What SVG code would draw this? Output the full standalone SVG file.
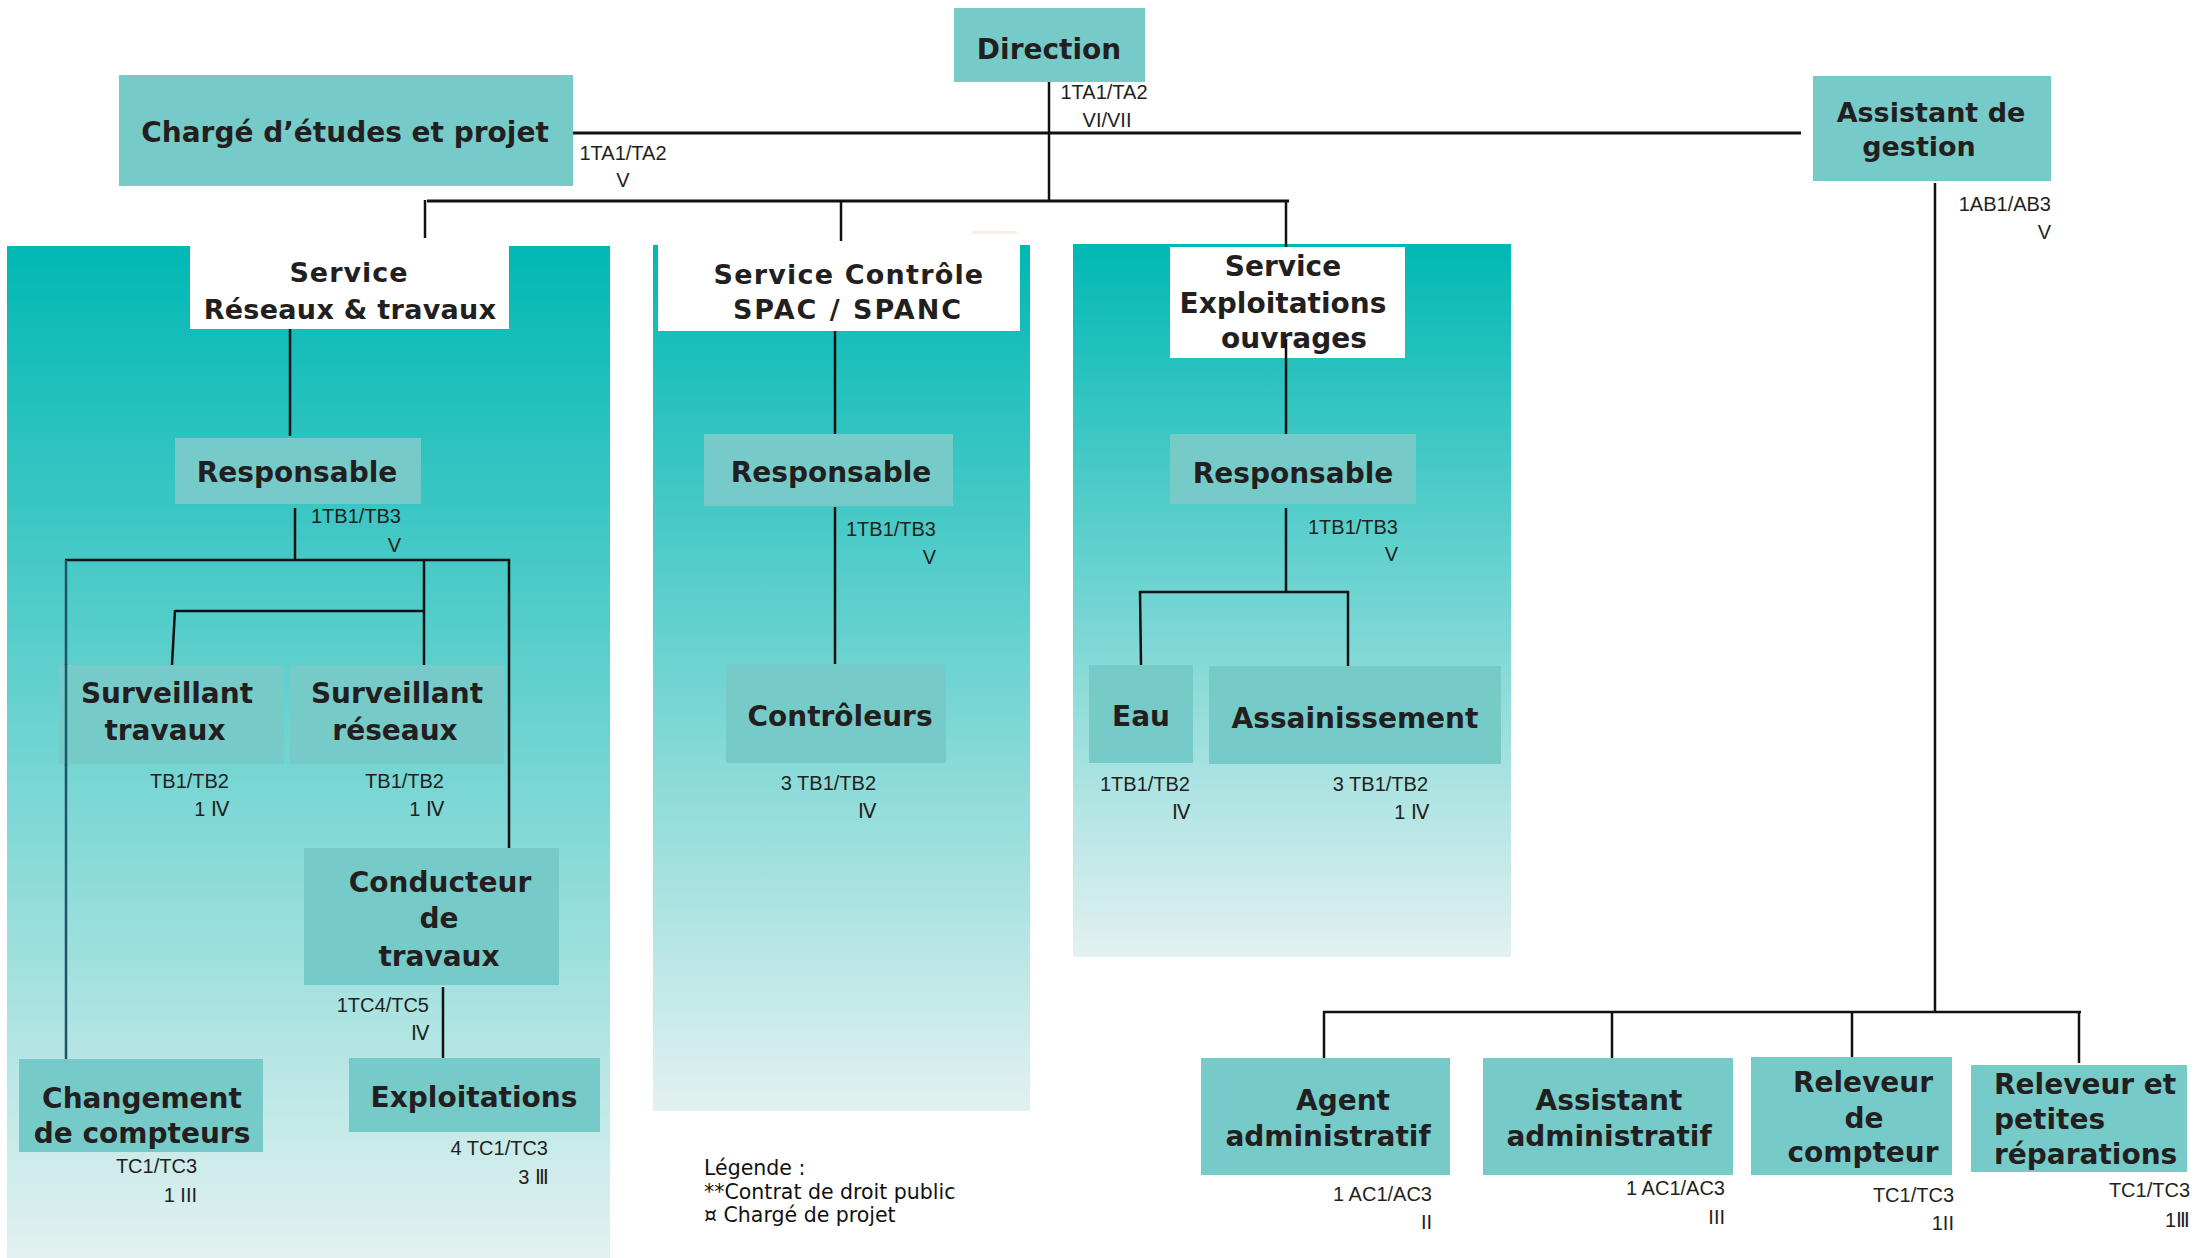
<svg xmlns="http://www.w3.org/2000/svg" width="2197" height="1258" viewBox="0 0 2197 1258">
<defs>
<linearGradient id="pg" x1="0" y1="0" x2="0" y2="1">
<stop offset="0" stop-color="#00b8b4"/>
<stop offset="1" stop-color="#e2f1f0"/>
</linearGradient>
<style>
.panel{fill:url(#pg)}
.node{fill:#76cbc9}
.title{fill:#ffffff}
.t{font-family:"DejaVu Sans",Verdana,sans-serif;font-weight:bold;font-size:28px;fill:#231f20;text-anchor:middle}
.ts{font-family:"DejaVu Sans",Verdana,sans-serif;font-weight:bold;font-size:27px;fill:#231f20;text-anchor:middle}
.tl{text-anchor:start}
.lbl{font-family:"Liberation Sans",Arial,sans-serif;font-size:20px;fill:#231f20}
.e{text-anchor:end}
.m{text-anchor:middle}
.leg{font-family:"DejaVu Sans",Verdana,sans-serif;font-size:20.5px;fill:#111}
.ln{stroke:#111;stroke-width:2.5;fill:none}
.lt{stroke:#111;stroke-width:3;fill:none}
</style>
</defs>
<rect width="2197" height="1258" fill="#ffffff"/>

<g id="panels">
<rect class="panel" x="7" y="246" width="603" height="1012"/>
<rect class="panel" x="653" y="245" width="377" height="866"/>
<rect class="panel" x="1073" y="244" width="438" height="713"/>
<rect x="972" y="231" width="45" height="3" fill="#fbefe3"/>
</g>

<g id="connectors">
<line class="lt" x1="573" y1="133" x2="1801" y2="133"/>
<line class="ln" x1="1049" y1="82" x2="1049" y2="201"/>
<line class="lt" x1="427" y1="201" x2="1289" y2="201"/>
<line class="ln" x1="425" y1="200" x2="425" y2="238"/>
<line class="ln" x1="841" y1="202" x2="841" y2="241"/>
<line class="ln" x1="1286" y1="200" x2="1286" y2="253"/>
<line class="ln" x1="1935" y1="183" x2="1935" y2="1012"/>
<line class="ln" x1="1323" y1="1012" x2="2081" y2="1012"/>
<line class="ln" x1="1324" y1="1011" x2="1324" y2="1058"/>
<line class="ln" x1="1612" y1="1011" x2="1612" y2="1058"/>
<line class="ln" x1="1852" y1="1011" x2="1852" y2="1057"/>
<line class="ln" x1="2079" y1="1011" x2="2079" y2="1063"/>
<line class="ln" x1="290" y1="329" x2="290" y2="436"/>
<line class="ln" x1="295" y1="508" x2="295" y2="561"/>
<line class="ln" x1="65" y1="560" x2="510" y2="560"/>
<line x1="66" y1="560" x2="66" y2="1059" stroke="#1d5566" stroke-width="2.5"/>
<line class="ln" x1="509" y1="559" x2="509" y2="848"/>
<line class="ln" x1="424" y1="560" x2="424" y2="666"/>
<line class="ln" x1="175" y1="611" x2="424" y2="611"/>
<line class="ln" x1="175" y1="610" x2="172" y2="665"/>
<line class="ln" x1="443" y1="987" x2="443" y2="1058"/>
<line class="ln" x1="835" y1="330" x2="835" y2="434"/>
<line class="ln" x1="835" y1="507" x2="835" y2="664"/>
<line class="ln" x1="1286" y1="339" x2="1286" y2="434"/>
<line class="ln" x1="1286" y1="508" x2="1286" y2="592"/>
<line class="ln" x1="1139" y1="592" x2="1349" y2="592"/>
<line class="ln" x1="1140" y1="591" x2="1141" y2="665"/>
<line class="ln" x1="1348" y1="591" x2="1348" y2="667"/>
</g>

<g id="n-direction">
<rect class="node" x="954" y="8" width="191" height="74"/>
<text class="t" x="1049" y="59">Direction</text>
<text class="lbl m" x="1104" y="99">1TA1/TA2</text>
<text class="lbl m" x="1107" y="127">VI/VII</text>
</g>

<g id="n-charge">
<rect class="node" x="119" y="75" width="454" height="111"/>
<text class="t" x="345" y="142">Chargé d’études et projet</text>
<text class="lbl m" x="623" y="160">1TA1/TA2</text>
<text class="lbl m" x="623" y="187">V</text>
</g>

<g id="n-assistant-gestion">
<rect class="node" x="1813" y="76" width="238" height="105"/>
<text class="ts" x="1931" y="122">Assistant de</text>
<text class="ts" x="1919" y="156">gestion</text>
<text class="lbl e" x="2051" y="211">1AB1/AB3</text>
<text class="lbl e" x="2051" y="239">V</text>
</g>

<g id="n-service-reseaux">
<rect class="title" x="190" y="246" width="319" height="83"/>
<text class="ts" x="349" y="282" letter-spacing="1">Service</text>
<text class="ts" x="350" y="319" letter-spacing="0.3">Réseaux &amp; travaux</text>
</g>

<g id="n-service-controle">
<rect class="title" x="658" y="245" width="362" height="86"/>
<text class="ts" x="849" y="284" letter-spacing="1.2">Service Contrôle</text>
<text class="ts" x="848" y="319" letter-spacing="2">SPAC / SPANC</text>
</g>

<g id="n-service-exploitations">
<rect class="title" x="1170" y="247" width="235" height="111"/>
<text class="t" x="1283" y="276" font-size="26">Service</text>
<text class="t" x="1283" y="313" font-size="26">Exploitations</text>
<text class="t" x="1294" y="348" font-size="26">ouvrages</text>
</g>

<g id="n-resp1">
<rect class="node" x="175" y="438" width="246" height="66"/>
<text class="t" x="297" y="482">Responsable</text>
<text class="lbl e" x="401" y="523">1TB1/TB3</text>
<text class="lbl e" x="401" y="552">V</text>
</g>

<g id="n-surv-travaux">
<rect class="node" x="59" y="665" width="225" height="99"/>
<text class="t" x="167" y="703">Surveillant</text>
<text class="t" x="165" y="740">travaux</text>
<text class="lbl e" x="229" y="788">TB1/TB2</text>
<text class="lbl e" x="229" y="816">1 Ⅳ</text>
</g>

<g id="n-surv-reseaux">
<rect class="node" x="290" y="665" width="214" height="99"/>
<text class="t" x="397" y="703">Surveillant</text>
<text class="t" x="395" y="740">réseaux</text>
<text class="lbl e" x="444" y="788">TB1/TB2</text>
<text class="lbl e" x="444" y="816">1 Ⅳ</text>
</g>

<g id="n-conducteur">
<rect class="node" x="304" y="848" width="255" height="137"/>
<text class="t" x="440" y="892">Conducteur</text>
<text class="t" x="439" y="928">de</text>
<text class="t" x="439" y="966">travaux</text>
<text class="lbl e" x="429" y="1012">1TC4/TC5</text>
<text class="lbl e" x="429" y="1040">Ⅳ</text>
</g>

<g id="n-changement">
<rect class="node" x="19" y="1059" width="244" height="93"/>
<text class="t" x="142" y="1108">Changement</text>
<text class="t" x="142" y="1143">de compteurs</text>
<text class="lbl e" x="197" y="1173">TC1/TC3</text>
<text class="lbl e" x="197" y="1202">1 III</text>
</g>

<g id="n-exploitations">
<rect class="node" x="349" y="1058" width="251" height="74"/>
<text class="t" x="474" y="1107">Exploitations</text>
<text class="lbl e" x="548" y="1155">4 TC1/TC3</text>
<text class="lbl e" x="549" y="1184">3 Ⅲ</text>
</g>

<g id="n-resp2">
<rect class="node" x="704" y="434" width="249" height="72"/>
<text class="t" x="831" y="482">Responsable</text>
<text class="lbl e" x="936" y="536">1TB1/TB3</text>
<text class="lbl e" x="936" y="564">V</text>
</g>

<g id="n-controleurs">
<rect class="node" x="726" y="664" width="220" height="99"/>
<text class="t" x="840" y="726">Contrôleurs</text>
<text class="lbl e" x="876" y="790">3 TB1/TB2</text>
<text class="lbl e" x="876" y="818">Ⅳ</text>
</g>

<g id="n-resp3">
<rect class="node" x="1170" y="434" width="246" height="70"/>
<text class="t" x="1293" y="483">Responsable</text>
<text class="lbl e" x="1398" y="534">1TB1/TB3</text>
<text class="lbl e" x="1398" y="561">V</text>
</g>

<g id="n-eau">
<rect class="node" x="1089" y="665" width="104" height="98"/>
<text class="t" x="1141" y="726">Eau</text>
<text class="lbl e" x="1190" y="791">1TB1/TB2</text>
<text class="lbl e" x="1190" y="819">Ⅳ</text>
</g>

<g id="n-assainissement">
<rect class="node" x="1209" y="666" width="292" height="98"/>
<text class="t" x="1355" y="728">Assainissement</text>
<text class="lbl e" x="1428" y="791">3 TB1/TB2</text>
<text class="lbl e" x="1429" y="819">1 Ⅳ</text>
</g>

<g id="n-agent-admin">
<rect class="node" x="1201" y="1058" width="249" height="117"/>
<text class="t" x="1343" y="1110">Agent</text>
<text class="t" x="1328" y="1146">administratif</text>
<text class="lbl e" x="1432" y="1201">1 AC1/AC3</text>
<text class="lbl e" x="1432" y="1229">II</text>
</g>

<g id="n-assistant-admin">
<rect class="node" x="1483" y="1058" width="250" height="117"/>
<text class="t" x="1609" y="1110">Assistant</text>
<text class="t" x="1609" y="1146">administratif</text>
<text class="lbl e" x="1725" y="1195">1 AC1/AC3</text>
<text class="lbl e" x="1725" y="1224">III</text>
</g>

<g id="n-releveur">
<rect class="node" x="1751" y="1057" width="201" height="118"/>
<text class="t" x="1863" y="1092">Releveur</text>
<text class="t" x="1864" y="1128">de</text>
<text class="t" x="1863" y="1162">compteur</text>
<text class="lbl e" x="1954" y="1202">TC1/TC3</text>
<text class="lbl e" x="1954" y="1230">1II</text>
</g>

<g id="n-releveur-petites">
<rect class="node" x="1971" y="1065" width="216" height="107"/>
<text class="t tl" x="1994" y="1094">Releveur et</text>
<text class="t tl" x="1994" y="1129">petites</text>
<text class="t tl" x="1994" y="1164">réparations</text>
<text class="lbl e" x="2190" y="1197">TC1/TC3</text>
<text class="lbl e" x="2190" y="1227">1Ⅲ</text>
</g>

<g id="connectors-over">
<line class="ln" x1="1286" y1="339" x2="1286" y2="358"/>
<line x1="66" y1="664" x2="66" y2="766" stroke="#1d5566" stroke-width="2.5"/>
</g>

<g id="legend">
<text class="leg" x="704" y="1175">Légende :</text>
<text class="leg" x="704" y="1199">**Contrat de droit public</text>
<text class="leg" x="704" y="1222">¤ Chargé de projet</text>
</g>
</svg>
